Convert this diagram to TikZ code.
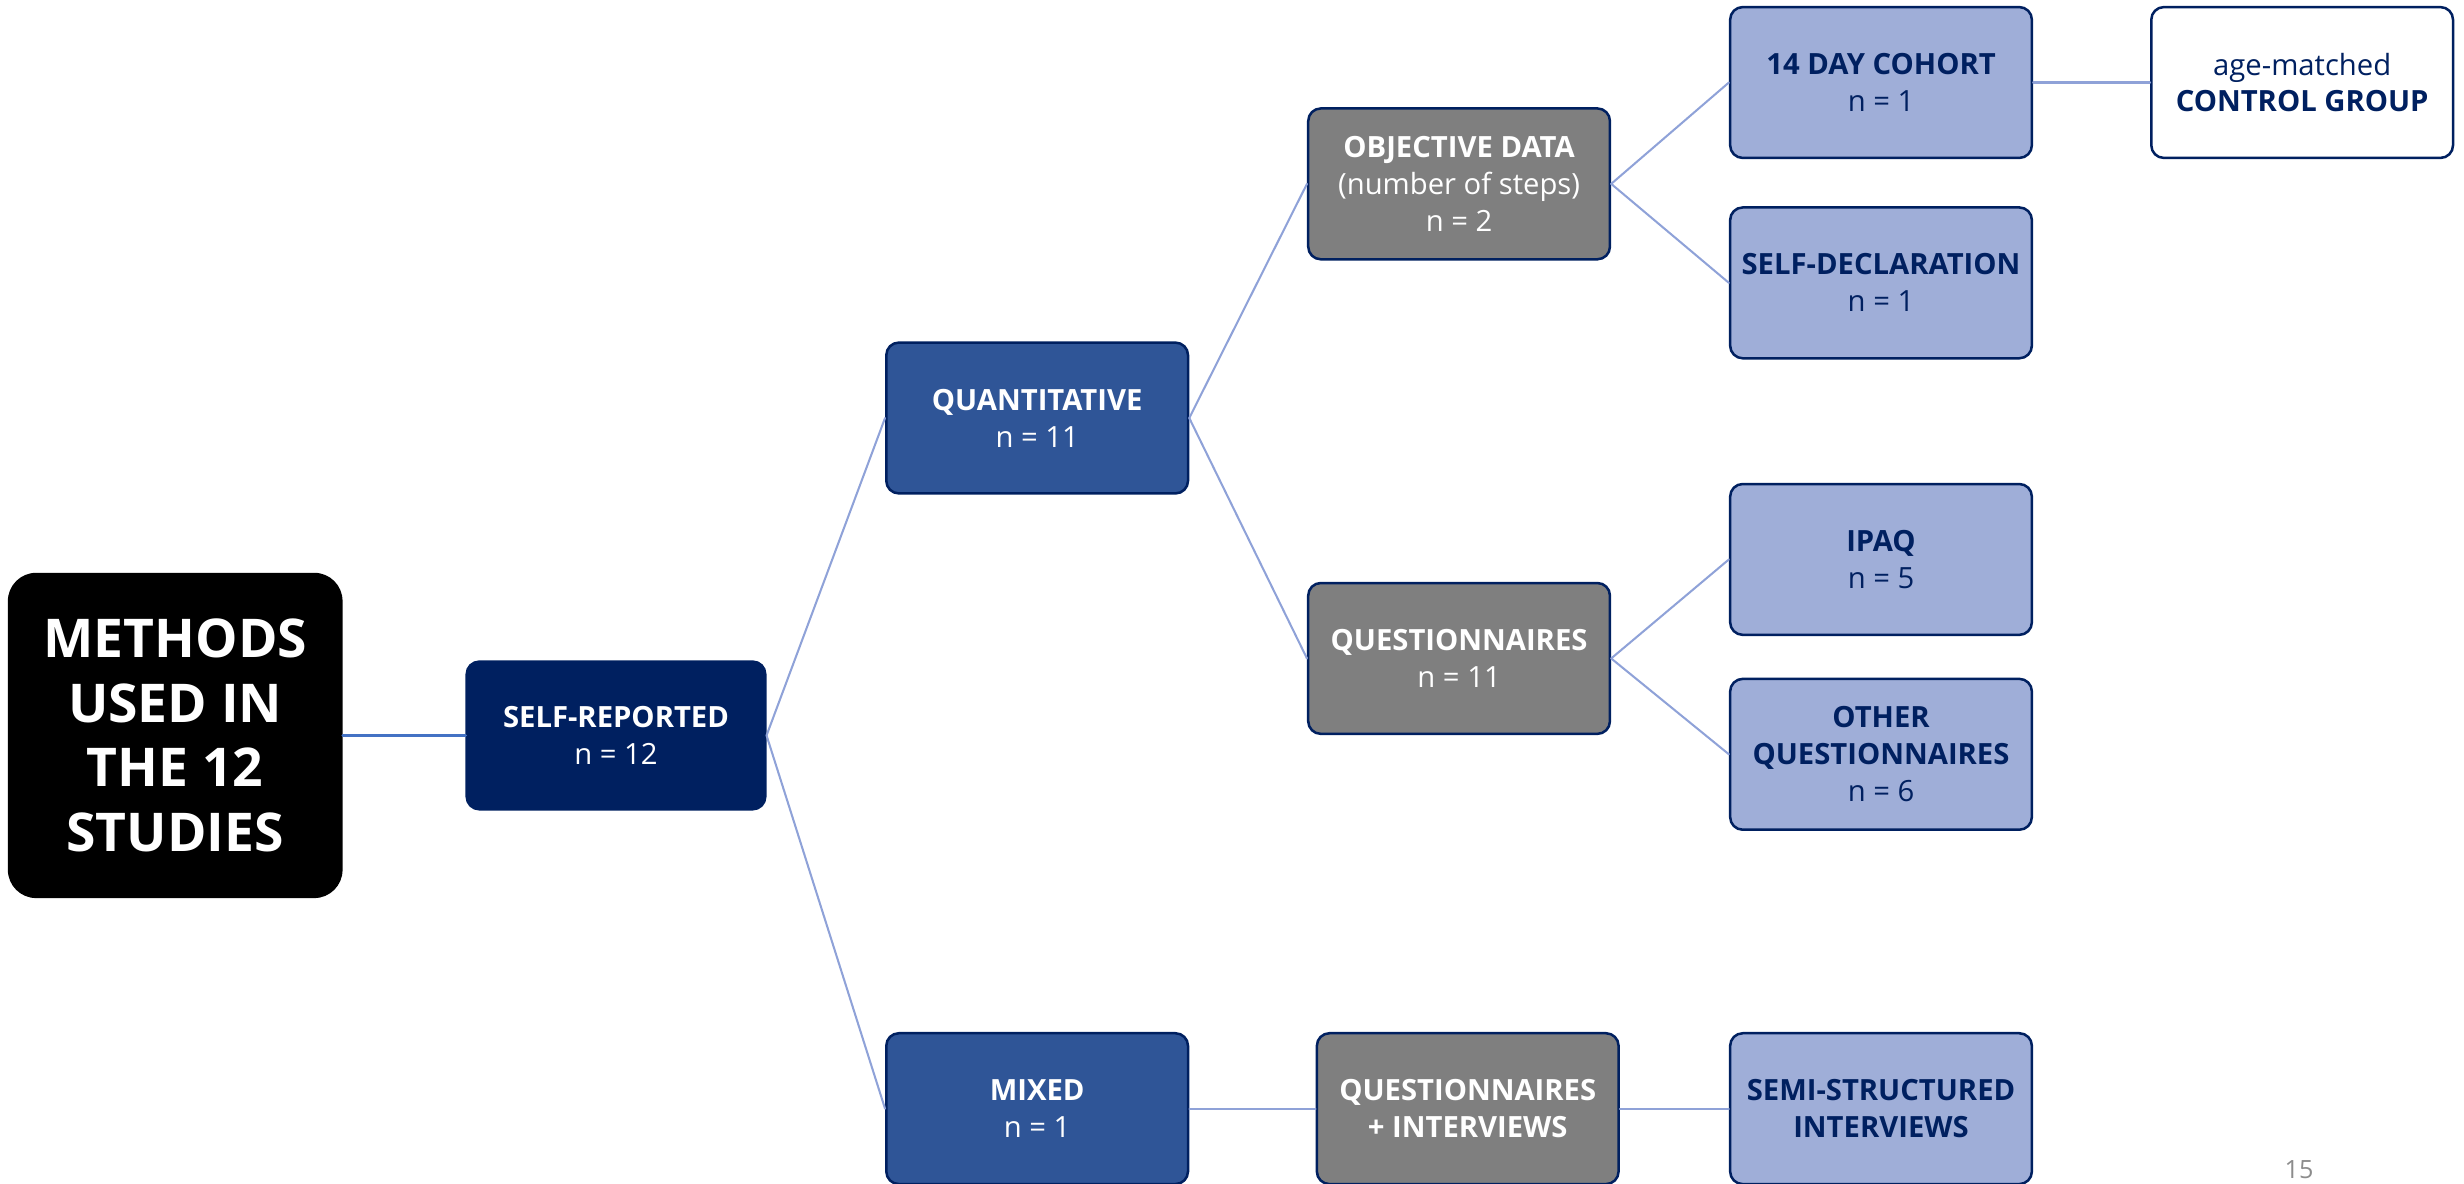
\documentclass[tikz,border=0pt]{standalone}
\usepackage{fontspec}
\setmainfont{Open Sans}
\usepackage{xcolor}
\definecolor{navy}{HTML}{002060}
\definecolor{midblue}{HTML}{2F5597}
\definecolor{lightblue}{HTML}{9FAED8}
\definecolor{greybox}{HTML}{7F7F7F}
\definecolor{linkblue}{HTML}{8FA2D8}
\definecolor{rootlink}{HTML}{4472C4}
\definecolor{pagegrey}{HTML}{8C8C8C}

\begin{document}
\begin{tikzpicture}
	[line cap=round,line join=round,x=1pt,y=-1pt,
	box/.style={draw=navy,line width=1.6pt,rounded corners=8pt,minimum width=192pt,minimum height=96pt,inner sep=0pt,align=center,font=\fontsize{18.6}{23.5}\selectfont},
	darkbox/.style={box,fill=navy,text=white,minimum width=190pt,minimum height=94pt},
	midbox/.style={box,fill=midblue,text=white},
	greybox/.style={box,fill=greybox,text=white},
	lightbox/.style={box,fill=lightblue,text=navy},
	whitebox/.style={box,fill=white,text=navy},
	link/.style={draw=linkblue,line width=1.3pt}]
	\useasboundingbox (0,0) rectangle (1568,753);
	\clip (0,0) rectangle (1568,753);
	% root
	\node[fill=black,text=white,rounded corners=18pt,minimum width=213pt,minimum height=207pt,inner sep=0pt,align=center,font=\fontsize{34}{41}\selectfont\bfseries] (root) at (111.5,468) {METHODS\\USED IN\\THE 12\\STUDIES};
	\node[darkbox] (selfrep) at (392,468) {{\bfseries SELF-REPORTED}\\n = 12};
	% second level
	\node[midbox] (quant) at (660,266) {{\bfseries QUANTITATIVE}\\n = 11};
	\node[midbox] (mixed) at (660,705.5) {{\bfseries MIXED}\\n = 1};
	% third level
	\node[greybox] (objective) at (928.5,117) {{\bfseries OBJECTIVE DATA}\\(number of steps)\\n = 2};
	\node[greybox] (quest) at (928.5,419) {{\bfseries QUESTIONNAIRES}\\n = 11};
	\node[greybox] (qint) at (934,705.5) {\bfseries QUESTIONNAIRES\\\bfseries + INTERVIEWS};
	% fourth level
	\node[lightbox] (cohort) at (1197,52.5) {{\bfseries 14 DAY COHORT}\\n = 1};
	\node[lightbox] (selfdecl) at (1197,180) {{\bfseries SELF-DECLARATION}\\n = 1};
	\node[lightbox] (ipaq) at (1197,356) {{\bfseries IPAQ}\\n = 5};
	\node[lightbox] (otherq) at (1197,480) {{\bfseries OTHER}\\{\bfseries QUESTIONNAIRES}\\n = 6};
	\node[lightbox] (semi) at (1197,705.5) {\bfseries SEMI-STRUCTURED\\\bfseries INTERVIEWS};
	\node[whitebox] (control) at (1465,52.5) {age-matched\\{\bfseries CONTROL GROUP}};
	% page number
	\node[text=pagegrey,font=\fontsize{16}{16}\selectfont] (pagenum) at (1463,744) {15};
	% connectors
	\draw[draw=rootlink,line width=2pt] (root.east) -- (selfrep.west);
	\draw[link] (selfrep.east) -- (quant.west);
	\draw[link] (selfrep.east) -- (mixed.west);
	\draw[link] (quant.east) -- (objective.west);
	\draw[link] (quant.east) -- (quest.west);
	\draw[link] (objective.east) -- (cohort.west);
	\draw[link] (objective.east) -- (selfdecl.west);
	\draw[link] (quest.east) -- (ipaq.west);
	\draw[link] (quest.east) -- (otherq.west);
	\draw[link] (mixed.east) -- (qint.west);
	\draw[link] (qint.east) -- (semi.west);
	\draw[link] (cohort.east) -- (control.west);
\end{tikzpicture}
\end{document}
